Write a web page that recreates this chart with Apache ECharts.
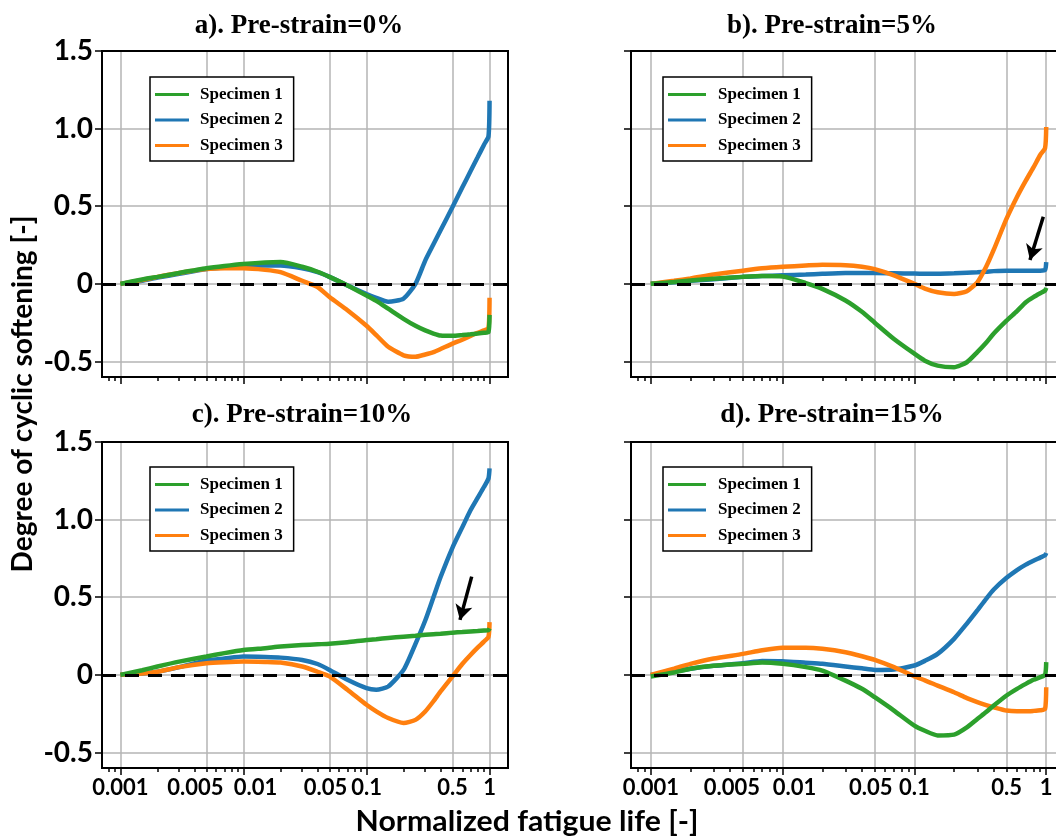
<!DOCTYPE html>
<html>
<head>
<meta charset="utf-8">
<title>Degree of cyclic softening</title>
<script src="https://cdn.jsdelivr.net/npm/echarts@6/dist/echarts.min.js"></script>
<style>html,body{margin:0;background:#fff;}</style>
</head>
<body>
<div id="main" style="width:1056px;height:838px;"></div>
<script>
// normalized fatigue life (shared sample points)
var lifeX = [0.001, 0.0015, 0.002, 0.003, 0.005, 0.007, 0.01, 0.015, 0.02, 0.03, 0.04, 0.05, 0.07, 0.1,
  0.12, 0.15, 0.2, 0.25, 0.3, 0.35, 0.4, 0.5, 0.6, 0.7, 0.8, 0.9, 0.98, 1.0];

// a) pre-strain 0%
var aSpec1 = [0, 0.028, 0.045, 0.07, 0.1, 0.115, 0.128, 0.138, 0.14, 0.11, 0.078, 0.045, -0.01, -0.075,
  -0.11, -0.16, -0.225, -0.27, -0.30, -0.32, -0.333, -0.335, -0.33, -0.325, -0.32, -0.315, -0.31, -0.20];
var aSpec2 = [0, 0.02, 0.04, 0.065, 0.095, 0.105, 0.115, 0.118, 0.118, 0.1, 0.075, 0.045, -0.01, -0.065,
  -0.09, -0.115, -0.095, 0.0, 0.15, 0.255, 0.345, 0.495, 0.62, 0.725, 0.815, 0.895, 0.95, 1.18];
var aSpec3 = [0, 0.025, 0.045, 0.07, 0.095, 0.1, 0.1, 0.09, 0.075, 0.02, -0.02, -0.085, -0.17, -0.27,
  -0.33, -0.405, -0.46, -0.47, -0.455, -0.44, -0.42, -0.385, -0.36, -0.335, -0.315, -0.3, -0.285, -0.09];

// b) pre-strain 5%
var bSpec1 = [0, 0.012, 0.022, 0.033, 0.045, 0.05, 0.047, 0.005, -0.032, -0.107, -0.18, -0.25, -0.355, -0.45,
  -0.495, -0.527, -0.537, -0.505, -0.44, -0.38, -0.32, -0.237, -0.175, -0.118, -0.085, -0.06, -0.043, -0.026];
var bSpec2 = [0, 0.01, 0.02, 0.03, 0.045, 0.05, 0.055, 0.06, 0.065, 0.07, 0.07, 0.07, 0.068, 0.066,
  0.065, 0.065, 0.068, 0.072, 0.075, 0.078, 0.082, 0.085, 0.085, 0.085, 0.085, 0.085, 0.09, 0.14];
var bSpec3 = [0, 0.02, 0.035, 0.06, 0.085, 0.1, 0.11, 0.118, 0.123, 0.12, 0.11, 0.095, 0.055, 0.0,
  -0.03, -0.054, -0.065, -0.047, 0.01, 0.11, 0.22, 0.42, 0.56, 0.665, 0.75, 0.83, 0.875, 1.01];

// c) pre-strain 10%
var cSpec1 = [0, 0.03, 0.054, 0.085, 0.118, 0.14, 0.16, 0.172, 0.182, 0.192, 0.197, 0.2, 0.21, 0.225,
  0.23, 0.237, 0.246, 0.252, 0.258, 0.262, 0.265, 0.272, 0.276, 0.28, 0.283, 0.286, 0.288, 0.3];
var cSpec2 = [0, 0.008, 0.02, 0.05, 0.092, 0.105, 0.118, 0.115, 0.111, 0.096, 0.07, 0.032, -0.032, -0.086,
  -0.096, -0.075, 0.032, 0.2, 0.35, 0.5, 0.63, 0.82, 0.95, 1.06, 1.14, 1.21, 1.265, 1.33];
var cSpec3 = [0, 0.008, 0.02, 0.05, 0.075, 0.082, 0.086, 0.083, 0.079, 0.054, 0.02, -0.01, -0.096, -0.193,
  -0.235, -0.278, -0.31, -0.29, -0.236, -0.17, -0.107, -0.01, 0.07, 0.128, 0.175, 0.214, 0.245, 0.34];

// d) pre-strain 15%
var dSpec1 = [-0.01, 0.015, 0.039, 0.058, 0.071, 0.08, 0.071, 0.05, 0.028, -0.037, -0.09, -0.144, -0.23, -0.327,
  -0.36, -0.39, -0.385, -0.338, -0.284, -0.24, -0.198, -0.133, -0.09, -0.058, -0.032, -0.015, 0.0, 0.082];
var dSpec2 = [0, 0.02, 0.039, 0.058, 0.075, 0.09, 0.088, 0.078, 0.071, 0.054, 0.042, 0.032, 0.035, 0.06,
  0.09, 0.135, 0.232, 0.33, 0.415, 0.49, 0.55, 0.625, 0.675, 0.71, 0.735, 0.755, 0.77, 0.785];
var dSpec3 = [0, 0.04, 0.071, 0.105, 0.135, 0.158, 0.174, 0.175, 0.168, 0.146, 0.12, 0.097, 0.05, -0.01,
  -0.035, -0.069, -0.112, -0.15, -0.176, -0.195, -0.209, -0.23, -0.235, -0.235, -0.232, -0.228, -0.22, -0.08];

var titles = ['a). Pre-strain=0%', 'b). Pre-strain=5%', 'c). Pre-strain=10%', 'd). Pre-strain=15%'];
var specNames = ['Specimen 1', 'Specimen 2', 'Specimen 3'];
var xLabelTicks = [0.001, 0.005, 0.01, 0.05, 0.1, 0.5, 1];
var xMajorTicks = [0.001, 0.01, 0.1, 1];
var yTicks = [-0.5, 0, 0.5, 1.0, 1.5];
// arrows: [tail, head] in (life, softening)
var arrowB = [[0.95, 0.433], [0.753, 0.154]];
var arrowC = [[0.716, 0.633], [0.575, 0.354]];

var panelData = [
  [aSpec1, aSpec2, aSpec3, null],
  [bSpec1, bSpec2, bSpec3, arrowB],
  [cSpec1, cSpec2, cSpec3, arrowC],
  [dSpec1, dSpec2, dSpec3, null]
];

var colors = ['#2ca02c', '#1f77b4', '#ff7f0e'];
var boxes = [
  {left: 102, top: 51, width: 406, height: 326},
  {left: 631, top: 51, width: 435, height: 326},
  {left: 102, top: 442, width: 406, height: 326},
  {left: 631, top: 442, width: 435, height: 326}
];
var legendPos = [[150, 77, 34, 6], [663, 77, 38, 7], [150, 467, 34, 6], [663, 467, 38, 7]];
var titlePos = [[299, 26], [832, 26], [302, 415], [832, 415]];

var minorTicks = [];
[-4, -3, -2, -1].forEach(function (e) {
  for (var k = 2; k <= 9; k++) minorTicks.push(Math.log10(k * Math.pow(10, e)));
});

var lg = function (v) { return Math.log10(v); };
var xMin = -3.15, xMax = 0.15;
var tickLine = {color: '#000', width: 1.5};
var gridLine = {color: '#b5b5b5', width: 1.5};
var sansBold = {fontFamily: 'Lato', fontWeight: 'bold', color: '#000'};
// crowded tick labels are nudged apart, as in the original figure
var labelFont = {fontFamily: 'Lato', fontWeight: 'bold', fontSize: 22, color: '#000'};
var xRich = {
  l22: Object.assign({padding: [0, 22, 0, 0]}, labelFont),
  l8: Object.assign({padding: [0, 8, 0, 0]}, labelFont),
  r24: Object.assign({padding: [0, 0, 0, 24]}, labelFont)
};
var xLabelFmt = function (v) {
  var t = String(+Math.pow(10, v).toPrecision(1));
  if (t === '0.005') return '{l22|' + t + '}';
  if (t === '0.01') return '{r24|' + t + '}';
  if (t === '0.05') return '{l8|' + t + '}';
  return t;
};

var option = {
  animation: false,
  backgroundColor: '#fff',
  grid: [], xAxis: [], yAxis: [], series: [], legend: [], graphic: []
};

panelData.forEach(function (p, i) {
  var b = boxes[i];
  option.grid.push({
    left: b.left, top: b.top, width: b.width, height: b.height,
    show: true, z: 3, borderColor: '#000', borderWidth: 2, backgroundColor: 'transparent',
    containLabel: false, outerBoundsMode: 'none'
  });
  option.xAxis.push({
    gridIndex: i, type: 'value', min: xMin, max: xMax, position: 'bottom',
    axisLine: {onZero: false, lineStyle: {color: '#000', width: 2}},
    axisTick: {customValues: xLabelTicks.map(lg), length: 4, lineStyle: tickLine},
    axisLabel: Object.assign({
      show: i >= 2, customValues: xLabelTicks.map(lg), margin: 9, fontSize: 22,
      formatter: xLabelFmt, rich: xRich
    }, sansBold),
    splitLine: {show: true, lineStyle: gridLine}
  });
  option.xAxis.push({
    gridIndex: i, type: 'value', min: xMin, max: xMax, position: 'bottom',
    axisLine: {show: false, onZero: false},
    axisTick: {customValues: minorTicks, length: 4, lineStyle: tickLine},
    axisLabel: {show: false}, splitLine: {show: false}
  });
  option.xAxis.push({
    gridIndex: i, type: 'value', min: xMin, max: xMax, position: 'bottom',
    axisLine: {show: false, onZero: false},
    axisTick: {customValues: xMajorTicks.map(lg), length: 7, lineStyle: tickLine},
    axisLabel: {show: false}, splitLine: {show: false}
  });
  option.yAxis.push({
    gridIndex: i, type: 'value', min: -0.6, max: 1.5,
    axisLine: {onZero: false, lineStyle: {color: '#000', width: 2}},
    axisTick: {customValues: yTicks, length: 7, lineStyle: tickLine},
    axisLabel: Object.assign({
      show: i % 2 === 0, customValues: yTicks, margin: 9, fontSize: 28,
      formatter: function (v) { return v === 0 ? '0' : v.toFixed(1); }
    }, sansBold),
    splitLine: {show: true, lineStyle: gridLine}
  });

  // draw order: specimen 2, 3, then 1 on top
  [1, 2, 0].forEach(function (k, n) {
    var s = {
      name: specNames[k], type: 'line', xAxisIndex: i * 3, yAxisIndex: i,
      data: lifeX.map(function (x, j) { return [lg(x), p[k][j]]; }),
      showSymbol: false, smooth: 0.2,
      lineStyle: {color: colors[k], width: 4.5},
      itemStyle: {color: colors[k]},
      z: 2 + n
    };
    if (n === 2) {
      var ml = [{yAxis: 0, lineStyle: {color: '#000', width: 3, type: [14, 9]}}];
      var arr = p[3];
      if (arr) {
        ml.push([
          {coord: [lg(arr[0][0]), arr[0][1]], symbol: 'none'},
          {coord: [lg(arr[1][0]), arr[1][1]], symbol: 'arrow', symbolSize: [13, 15],
            lineStyle: {color: '#000', width: 3.5, type: 'solid'}}
        ]);
      }
      s.markLine = {silent: true, symbol: ['none', 'none'], label: {show: false},
        lineStyle: {color: '#000', width: 3.5, type: 'solid'}, data: ml};
    }
    option.series.push(s);
  });

  var lp = legendPos[i];
  option.legend.push({
    data: specNames, orient: 'vertical', left: lp[0], top: lp[1],
    selectedMode: false, icon: 'rect', itemWidth: lp[2], itemHeight: 3, itemGap: 8.5,
    padding: [9, 11, 7, 5], borderColor: '#000', borderWidth: 1.5, backgroundColor: '#fff',
    textStyle: {fontFamily: 'Liberation Serif', fontWeight: 'bold', fontSize: 17, lineHeight: 17,
      color: '#000', padding: [0, 0, 0, lp[3]]}
  });

  option.graphic.push({
    type: 'text', x: titlePos[i][0], y: titlePos[i][1], z: 10,
    style: {text: titles[i], font: 'bold 27px "Liberation Serif"', fill: '#000',
      textAlign: 'center', textVerticalAlign: 'middle'}
  });
});

option.graphic.push({
  type: 'text', x: 23, y: 394, rotation: Math.PI / 2, z: 10,
  style: {text: 'Degree of cyclic softening [-]', font: 'bold 28px Lato', fill: '#000',
    textAlign: 'center', textVerticalAlign: 'middle'}
});
option.graphic.push({
  type: 'text', x: 527, y: 822, z: 10, scaleX: 1.08,
  style: {text: 'Normalized fatigue life [-]', font: 'bold 28px Lato', fill: '#000',
    textAlign: 'center', textVerticalAlign: 'middle'}
});

var myChart = echarts.init(document.getElementById('main'));
myChart.setOption(option);
</script>
</body>
</html>
